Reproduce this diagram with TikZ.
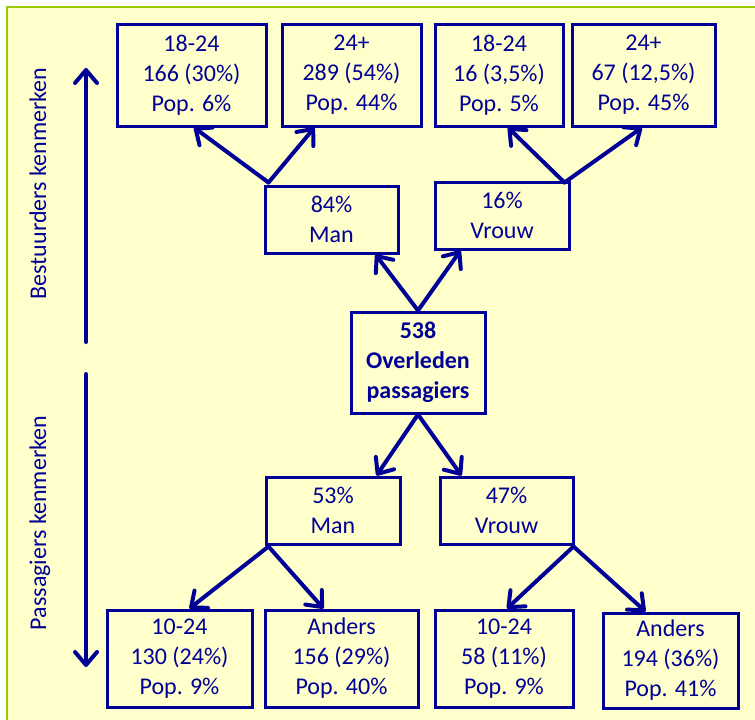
\documentclass[tikz,border=0pt]{standalone}
\usepackage{fontspec}
\setmainfont{Carlito}
\usetikzlibrary{arrows.meta,calc}
\definecolor{navy}{RGB}{0,0,150}
\definecolor{bgyellow}{RGB}{255,255,204}
\definecolor{framegreen}{RGB}{153,204,0}
\tikzset{
  box/.style={draw=navy, line width=3pt, fill=bgyellow, text=navy, align=center,
    inner sep=0pt, font=\fontsize{24}{30}\selectfont},
  arr/.style={draw=navy, line width=4pt, line cap=round,
    -{Straight Barb[length=13pt,width=22pt,line cap=round,line join=round]}},
  sidelabel/.style={text=navy, rotate=90, anchor=base, inner sep=0pt,
    font=\fontsize{24}{30}\selectfont}
}
\begin{document}
\begin{tikzpicture}[x=1pt,y=-1pt]
\path[use as bounding box] (0,0) rectangle (755,720);
\fill[white] (0,0) rectangle (755,720);
\draw[framegreen, line width=2pt, fill=bgyellow] (7,7) rectangle (775,740);

% top row
\node[box, minimum width=149pt, minimum height=102pt] (a1) at (191.5,75) {18-24\\166 (30\%)\\Pop. 6\%};
\node[box, minimum width=139pt, minimum height=102pt] (a2) at (351.5,75) {24+\\289 (54\%)\\Pop. 44\%};
\node[box, minimum width=128pt, minimum height=102pt] (a3) at (499,75) {18-24\\16 (3,5\%)\\Pop. 5\%};
\node[box, minimum width=143pt, minimum height=102pt] (a4) at (643.5,75) {24+\\67 (12,5\%)\\Pop. 45\%};

% second row
\node[box, minimum width=133pt, minimum height=67pt] (m1) at (331.5,219.5) {84\%\\Man};
\node[box, minimum width=134pt, minimum height=67pt] (v1) at (502,215.5) {16\%\\Vrouw};

% centre
\node[box, minimum width=134pt, minimum height=101pt, font=\fontsize{24}{30}\selectfont\bfseries] (c) at (418,362.5) {538\\Overleden\\passagiers};

% fourth row
\node[box, minimum width=134pt, minimum height=67pt] (m2) at (333,510.5) {53\%\\Man};
\node[box, minimum width=133pt, minimum height=67pt] (v2) at (506.5,510.5) {47\%\\Vrouw};

% bottom row
\node[box, minimum width=145pt, minimum height=97pt] (b1) at (179.5,658.5) {10-24\\130 (24\%)\\Pop. 9\%};
\node[box, minimum width=153pt, minimum height=97pt] (b2) at (341.5,658.5) {Anders\\156 (29\%)\\Pop. 40\%};
\node[box, minimum width=138pt, minimum height=97pt] (b3) at (504,658.5) {10-24\\58 (11\%)\\Pop. 9\%};
\node[box, minimum width=135pt, minimum height=95pt] (b4) at (670.5,660.5) {Anders\\194 (36\%)\\Pop. 41\%};

% arrows upper
\draw[arr] ($(m1.north west)+(5,-2)$) -- ($(a1.south)+(2.5,0)$);
\draw[arr] ($(m1.north west)+(5,-2)$) -- ($(a2.south west)+(34,0)$);
\draw[arr] ($(v1.north east)+(-6,2)$) -- ($(a3.south)+(9,0)$);
\draw[arr] ($(v1.north east)+(-6,2)$) -- ($(a4.south)+(-1.5,0)$);
\draw[arr] (c.north) -- ($(m1.south east)+(-24,0)$);
\draw[arr] (c.north) -- ($(v1.south west)+(27,0)$);

% arrows lower
\draw[arr] (c.south) -- ($(m2.north east)+(-25,0)$);
\draw[arr] (c.south) -- ($(v2.north west)+(23,0)$);
\draw[arr] ($(m2.south west)+(4,1)$) -- ($(b1.north)+(10,0)$);
\draw[arr] ($(m2.south west)+(4,1)$) -- ($(b2.north west)+(60,0)$);
\draw[arr] ($(v2.south east)+(-1,1)$) -- ($(b3.north)+(3,0)$);
\draw[arr] ($(v2.south east)+(-1,1)$) -- ($(b4.north west)+(44,0)$);

% side arrows and labels
\coordinate (upS) at (86,342);
\coordinate (upE) at (86,68);
\coordinate (dnS) at (86,374);
\coordinate (dnE) at (86,667);
\draw[arr] (upS) -- (upE);
\draw[arr] (dnS) -- (dnE);
\node[sidelabel] (lab1) at (46,183.5) {Bestuurders kenmerken};
\node[sidelabel] (lab2) at (46,523) {Passagiers kenmerken};
\end{tikzpicture}
\end{document}
